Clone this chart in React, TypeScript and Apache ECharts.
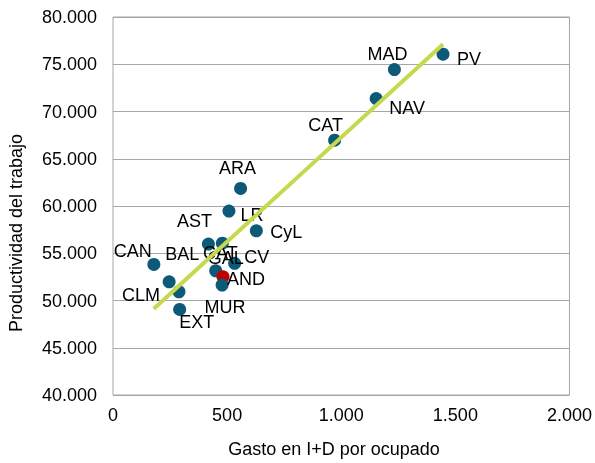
import React, { useEffect, useRef } from "react";
import * as echarts from "echarts";

// Data
const regions = ["PV", "MAD", "NAV", "CAT", "ARA", "LR", "CyL", "AST", "CAT", "GAL", "BAL", "CAN", "CLM", "EXT", "CV", "AND", "MUR"];
const gastoID = [1446, 1233, 1153, 971, 559, 508, 628, 418, 479, 450, 246, 179, 289, 292, 533, 482, 478];
const productividad = [76060, 74440, 71370, 66960, 61860, 59460, 57370, 55970, 56070, 53140, 51980, 53820, 50920, 49060, 53930, 52510, 51630];
const highlighted = 15; // index of AND (red point)

const xTicks = [0, 500, 1000, 1500, 2000];
const yTicks = [40000, 45000, 50000, 55000, 60000, 65000, 70000, 75000, 80000];

const xTitle = "Gasto en I+D por ocupado";
const yTitle = "Productividad del trabajo";

// Label placement (offset of label centre from point centre, px), parallel to regions
const labelOffsets: [number, number][] = [
  [26, 5], [-7, -16], [31, 9], [-9, -15], [-3, -20], [23, 4], [30, 1], [-14, -23],
  [-2, 10], [10, -13], [13, -28], [-21, -13], [-38, 3], [17, 13], [22, -6], [23, 2], [3, 22],
];

const fmt = (n: number) => String(Math.round(n)).replace(/\B(?=(\d{3})+(?!\d))/g, ".");

function regression(xs: number[], ys: number[]) {
  const n = xs.length;
  const mx = xs.reduce((a, b) => a + b, 0) / n;
  const my = ys.reduce((a, b) => a + b, 0) / n;
  let sxy = 0, sxx = 0;
  for (let i = 0; i < n; i++) {
    sxy += (xs[i] - mx) * (ys[i] - my);
    sxx += (xs[i] - mx) ** 2;
  }
  const b = sxy / sxx;
  return { a: my - b * mx, b };
}

export default function App() {
  const ref = useRef<HTMLDivElement>(null);
  useEffect(() => {
    if (!ref.current) return;
    const chart = echarts.init(ref.current, undefined, { renderer: "svg" });
    const font = "'Liberation Sans', Arial, sans-serif";
    const { a, b } = regression(gastoID, productividad);
    const xmin = Math.min(...gastoID);
    const xmax = Math.max(...gastoID);
    const points = regions.map((r, i) => ({
      value: [gastoID[i], productividad[i]],
      name: r,
      itemStyle: { color: i === highlighted ? "#c00000" : "#0d5a78", opacity: 1 },
      label: {
        show: true,
        formatter: r,
        position: "inside",
        align: "center",
        verticalAlign: "middle",
        offset: labelOffsets[i],
      },
    }));
    chart.setOption({
      animation: false,
      textStyle: { fontFamily: font },
      grid: {
        left: 113,
        right: 25,
        top: 17,
        bottom: 68,
        show: true,
        borderColor: "#a6a6a6",
        borderWidth: 1,
        backgroundColor: "transparent",
      },
      xAxis: {
        type: "value",
        min: xTicks[0],
        max: xTicks[xTicks.length - 1],
        interval: xTicks[1] - xTicks[0],
        axisLine: { show: false },
        axisTick: { show: false },
        splitLine: { show: false },
        axisLabel: { fontSize: 18, color: "#000", margin: 11, fontFamily: font, formatter: (v: number) => fmt(v) },
      },
      yAxis: {
        type: "value",
        min: yTicks[0],
        max: yTicks[yTicks.length - 1],
        interval: yTicks[1] - yTicks[0],
        axisLine: { show: false },
        axisTick: { show: false },
        splitLine: { show: true, lineStyle: { color: "#a6a6a6", width: 1 } },
        axisLabel: { fontSize: 18, color: "#000", margin: 16, fontFamily: font, formatter: (v: number) => fmt(v) },
      },
      series: [
        {
          type: "scatter",
          symbol: "circle",
          symbolSize: 13,
          z: 2,
          itemStyle: { opacity: 1 },
          data: points,
          label: { fontSize: 18, color: "#000", fontFamily: font },
        },
        {
          type: "line",
          z: 3,
          showSymbol: false,
          symbol: "none",
          silent: true,
          lineStyle: { color: "#c6d84e", width: 4 },
          data: [
            [xmin, a + b * xmin],
            [xmax, a + b * xmax],
          ],
        },
      ],
      graphic: [
        {
          type: "text",
          x: 334,
          y: 449,
          style: { text: xTitle, fontSize: 18, fill: "#000", font: `18px ${font}`, textAlign: "center", textVerticalAlign: "middle" },
        },
        {
          type: "text",
          x: 16,
          y: 233,
          rotation: Math.PI / 2,
          style: { text: yTitle, fontSize: 18, fill: "#000", font: `18px ${font}`, textAlign: "center", textVerticalAlign: "middle" },
        },
      ],
    });
    return () => chart.dispose();
  }, []);
  return <div ref={ref} style={{ position: "fixed", left: 0, top: 0, width: 595, height: 463 }} />;
}
